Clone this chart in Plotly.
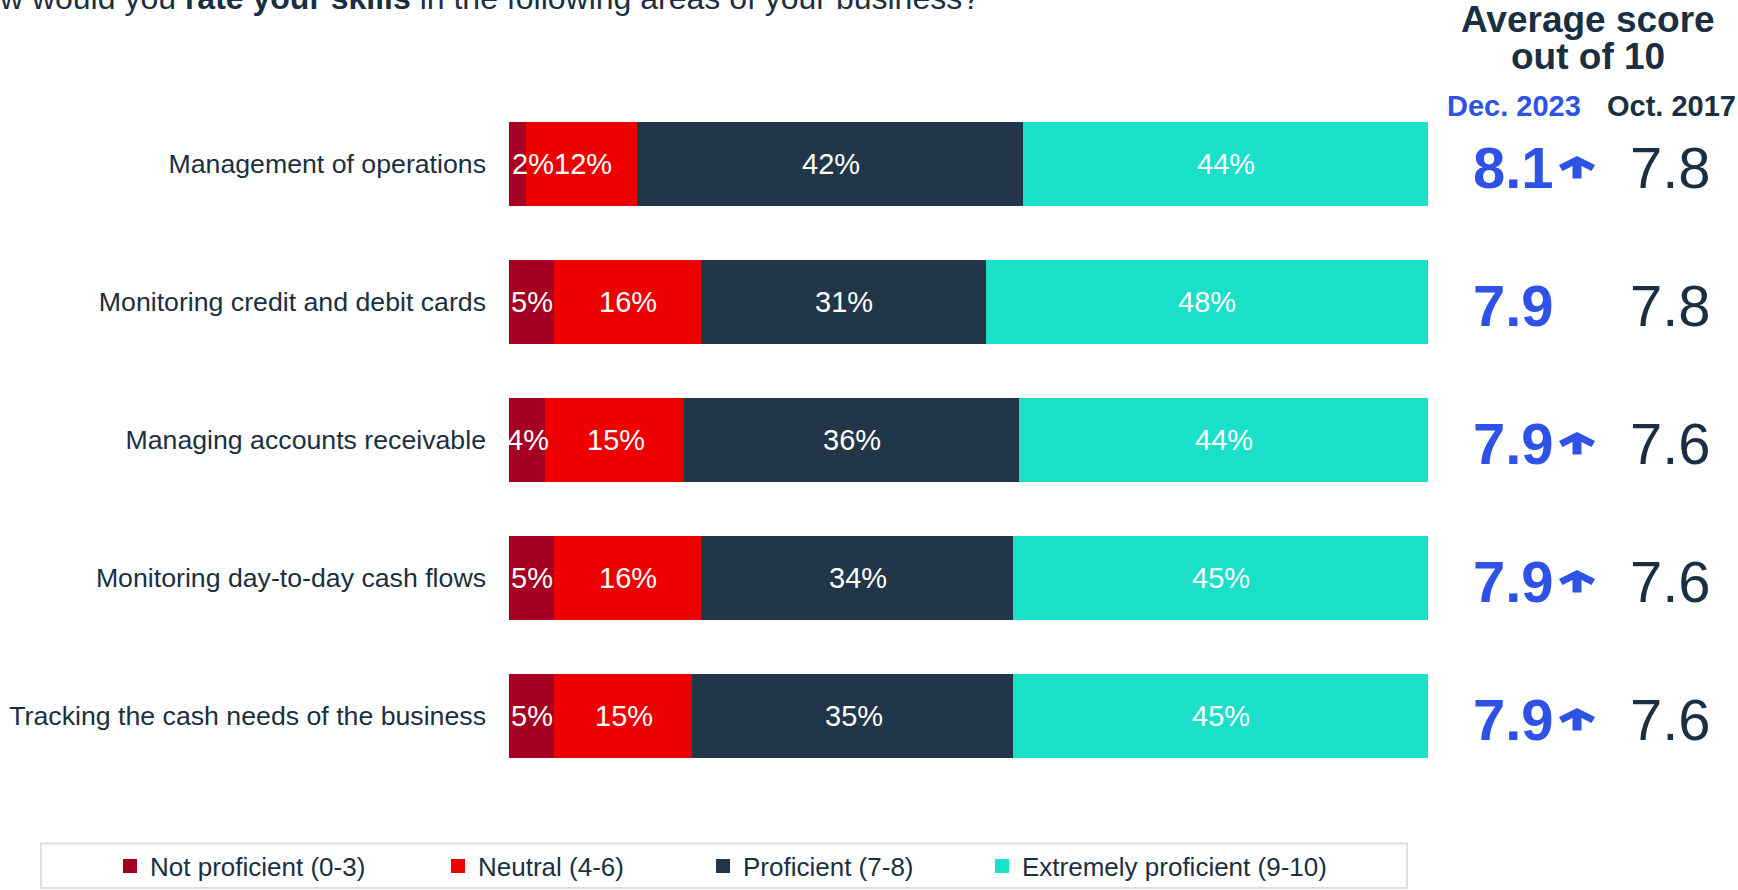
import plotly.graph_objects as go

# Survey results: share of respondents in each proficiency band (percent)
categories = [
    "Management of operations",
    "Monitoring credit and debit cards",
    "Managing accounts receivable",
    "Monitoring day-to-day cash flows",
    "Tracking the cash needs of the business",
]
not_proficient = [2, 5, 4, 5, 5]
neutral = [12, 16, 15, 16, 15]
proficient = [42, 31, 36, 34, 35]
extremely_proficient = [44, 48, 44, 45, 45]

series_names = [
    "Not proficient (0-3)",
    "Neutral (4-6)",
    "Proficient (7-8)",
    "Extremely proficient (9-10)",
]

# Average score out of 10 for each area
score_dec_2023 = [8.1, 7.9, 7.9, 7.9, 7.9]
score_oct_2017 = [7.8, 7.8, 7.6, 7.6, 7.6]
score_up = [True, False, True, True, True]

W, H = 1738, 890
ML, MR, MT, MB = 509, 310, 95, 105
PW, PH = W - ML - MR, H - MT - MB

NAVY_TEXT = "#1b2f42"
BLUE = "#2e51e8"
COLORS = ["#a50021", "#ee0000", "#223649", "#1adfc9"]
FONT = "Liberation Sans, Arial, sans-serif"


def px_x(px):
    return (px - ML) / PW


def px_y(py):
    return (H - MB - py) / PH


fig = go.Figure()
values = [not_proficient, neutral, proficient, extremely_proficient]
legend_ids = ["legend", "legend2", "legend3", "legend4"]
for name, vals, color, lid in zip(series_names, values, COLORS, legend_ids):
    fig.add_trace(
        go.Bar(
            y=categories,
            x=vals,
            name=name,
            orientation="h",
            # same-colour outline: slightly larger legend swatches
            marker=dict(color=color, line=dict(width=2, color=color)),
            legend=lid,
            hoverinfo="skip",
        )
    )

annotations = []

# Percentage labels, drawn above every segment (stacks are normalised
# to 100 like the bars themselves, since barnorm="percent").
for i, cat in enumerate(categories):
    row = [series[i] for series in values]
    total = sum(row)
    start = 0.0
    for v in row:
        width = v / total * 100
        narrow = width < 3
        annotations.append(
            dict(
                text=f"{v}%",
                xref="x", yref="y",
                x=start if narrow else start + width / 2,
                y=cat,
                xanchor="left" if narrow else "center",
                yanchor="middle",
                xshift=1 if narrow else 0,
                showarrow=False,
                font=dict(color="white", size=29, family=FONT),
            )
        )
        start += width

# Question heading
annotations.append(
    dict(
        text="How would you <b>rate your skills</b> in the following areas of your business?",
        xref="paper", yref="paper",
        x=px_x(982), y=px_y(-1.5),
        xanchor="right", yanchor="middle",
        showarrow=False,
        font=dict(size=32, color=NAVY_TEXT, family=FONT),
    )
)

# Right-hand score table
for line, ypx in (("Average score", 20), ("out of 10", 56)):
    annotations.append(
        dict(
            text=f"<b>{line}</b>",
            xref="paper", yref="paper",
            x=px_x(1588), y=px_y(ypx),
            xanchor="center", yanchor="middle",
            showarrow=False,
            font=dict(size=37, color=NAVY_TEXT, family=FONT),
        )
    )
annotations.append(
    dict(
        text="<b>Dec. 2023</b>",
        xref="paper", yref="paper",
        x=px_x(1514), y=px_y(106),
        xanchor="center", yanchor="middle",
        showarrow=False,
        font=dict(size=29, color=BLUE, family=FONT),
    )
)
annotations.append(
    dict(
        text="<b>Oct. 2017</b>",
        xref="paper", yref="paper",
        x=px_x(1671), y=px_y(106),
        xanchor="center", yanchor="middle",
        showarrow=False,
        font=dict(size=29, color=NAVY_TEXT, family=FONT),
    )
)

shapes = []
for cat, s23, s17, up in zip(categories, score_dec_2023, score_oct_2017, score_up):
    annotations.append(
        dict(
            text=f"<b>{s23:.1f}</b>",
            xref="paper", yref="y",
            x=px_x(1513), y=cat,
            xanchor="center", yanchor="middle", yshift=-3,
            showarrow=False,
            font=dict(size=58, color=BLUE, family=FONT),
        )
    )
    annotations.append(
        dict(
            text=f"{s17:.1f}",
            xref="paper", yref="y",
            x=px_x(1670), y=cat,
            xanchor="center", yanchor="middle", yshift=-3,
            showarrow=False,
            font=dict(size=58, color=NAVY_TEXT, family=FONT),
        )
    )
    if up:
        shapes.append(
            dict(
                type="path",
                xref="paper", yref="y",
                xsizemode="pixel", ysizemode="pixel",
                xanchor=px_x(1577), yanchor=cat,
                path="M0,8 L18,-1 L14.5,-7 L4.5,-2 L4.5,-14.5 L-4.5,-14.5 L-4.5,-2 L-14.5,-7 L-18,-1 Z",
                fillcolor=BLUE,
                line=dict(width=0),
            )
        )

# Frame around the legend row
shapes.append(
    dict(
        type="rect",
        xref="paper", yref="paper",
        x0=px_x(41), x1=px_x(1407),
        y0=px_y(888), y1=px_y(843.5),
        line=dict(color="#dedede", width=2),
        fillcolor="rgba(0,0,0,0)",
        layer="below",
    )
)

legend_symbol_left = [129, 457, 722, 1001]
legend_layouts = {}
for lid, sx in zip(legend_ids, legend_symbol_left):
    legend_layouts[lid] = dict(
        x=px_x(sx - 19),
        y=px_y(866),
        xanchor="left",
        yanchor="middle",
        orientation="h",
        bgcolor="rgba(0,0,0,0)",
        borderwidth=0,
        font=dict(size=26, color=NAVY_TEXT, family=FONT),
        itemclick=False,
        itemdoubleclick=False,
    )

fig.update_layout(
    width=W,
    height=H,
    margin=dict(l=ML, r=MR, t=MT, b=MB, autoexpand=False),
    barmode="stack",
    barnorm="percent",
    bargap=0.405,
    plot_bgcolor="white",
    paper_bgcolor="white",
    font=dict(family=FONT, color=NAVY_TEXT),
    xaxis=dict(
        range=[0, 100],
        visible=False,
        showgrid=False,
        zeroline=False,
    ),
    yaxis=dict(
        categoryorder="array",
        categoryarray=categories,
        range=[4.5, -0.5],
        showgrid=False,
        zeroline=False,
        showline=False,
        ticks="",
        ticklabelstandoff=22,
        tickfont=dict(size=26.7, color=NAVY_TEXT, family=FONT),
    ),
    annotations=annotations,
    shapes=shapes,
    showlegend=True,
    **legend_layouts,
)

fig.write_html("out.html")
